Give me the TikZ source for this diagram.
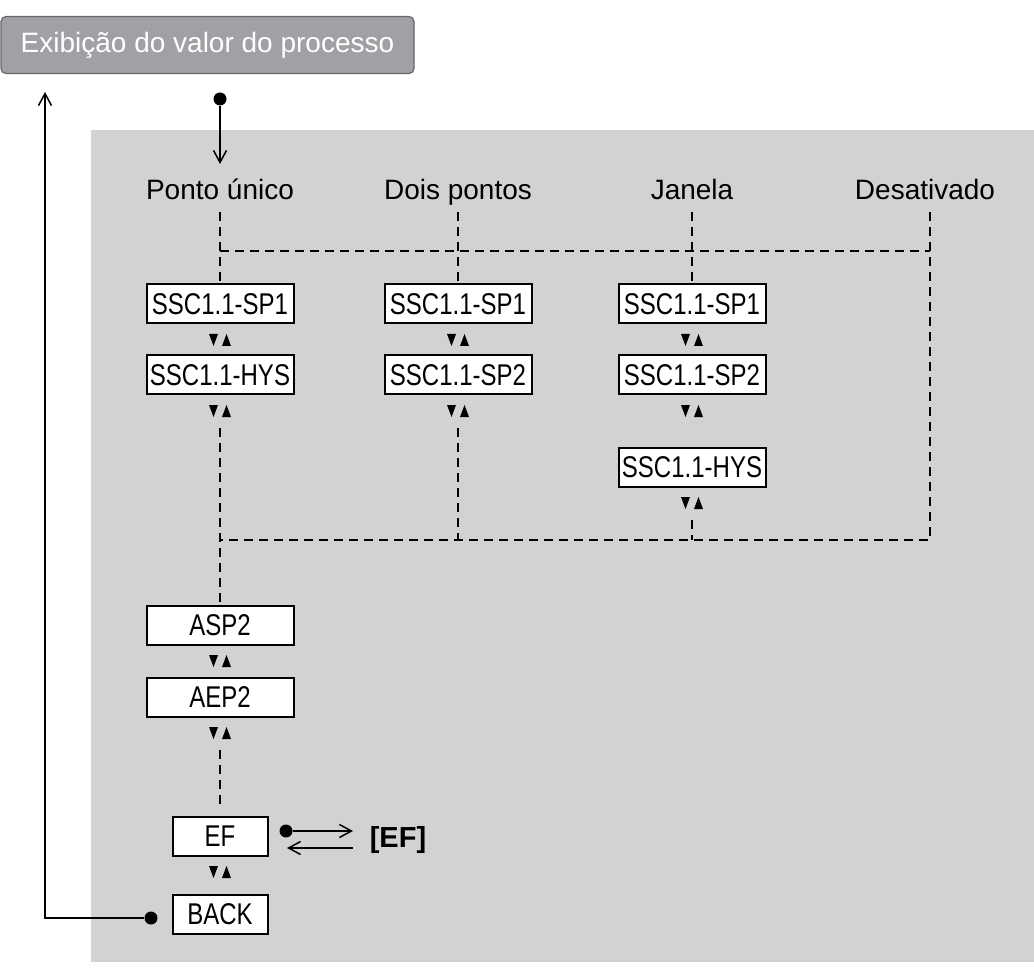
\documentclass[tikz,border=0pt]{standalone}
\usepackage{fontspec}
\setmainfont{Liberation Sans}
\newfontfamily\narrowf{Liberation Sans}[FakeStretch=0.8]
\usetikzlibrary{arrows.meta}
\definecolor{panel}{RGB}{209,210,212}
\definecolor{topbox}{RGB}{160,161,164}
\begin{document}
\begin{tikzpicture}[x=1pt,y=-1pt,
  box/.style={draw,line width=2pt,fill=white,minimum height=39pt,inner sep=0pt,font=\narrowf\fontsize{30}{30}\selectfont},
  wbox/.style={box,minimum width=147pt},
  sbox/.style={box,minimum width=95pt},
  head/.style={font=\fontsize{28}{28}\selectfont,anchor=base},
  dsh/.style={line width=1.5pt,dash pattern=on 9pt off 6pt},
  conn/.style={line width=1.5pt},
  tip/.style={-{Straight Barb[length=12pt,width=13pt,line width=1.5pt]}},
  updown/.pic={\fill (-11,-6)--(-2,-6)--(-6.5,6)--cycle; \fill (2,6)--(11,6)--(6.5,-6)--cycle;},
  dot/.style={circle,fill,inner sep=0pt,minimum size=13pt}]
\useasboundingbox (0,0) rectangle (1034,968);
\fill[panel] (91,130) rectangle (1034,962);
\node[draw=gray!80!black,line width=1.2pt,fill=topbox,rounded corners=5pt,minimum width=413pt,minimum height=57pt,text=white,font=\fontsize{28}{28}\selectfont] (top) at (207.5,45) {Exibição do valor do processo};
% headers
\node[head] (h1) at (220,200) {Ponto único};
\node[head] (h2) at (458,200) {Dois pontos};
\node[head] (h3) at (692,200) {Janela};
\node[head] (h4) at (925,200) {Desativado};
% boxes
\node[wbox] (a1) at (220,304) {SSC1.1-SP1};
\node[wbox] (a2) at (220,375) {SSC1.1-HYS};
\node[wbox] (b1) at (458,304) {SSC1.1-SP1};
\node[wbox] (b2) at (458,375) {SSC1.1-SP2};
\node[wbox] (c1) at (692,304) {SSC1.1-SP1};
\node[wbox] (c2) at (692,375) {SSC1.1-SP2};
\node[wbox] (c3) at (692,467) {SSC1.1-HYS};
\node[wbox] (asp) at (220,625) {ASP2};
\node[wbox] (aep) at (220,697) {AEP2};
\node[sbox] (ef) at (220,836) {EF};
\node[sbox] (back) at (220,914) {BACK};
\node[font=\bfseries\fontsize{29}{29}\selectfont] (efl) at (398,840) {[EF]};
% triangles
\foreach \x/\y in {220/340,220/411,458/340,458/411,692/340,692/411,692/503,220/661,220/733,220/872}
  \pic at (\x,\y) {updown};
% coordinates
\coordinate (v1) at (220,212); \coordinate (v2) at (458,212); \coordinate (v3) at (692,212);
\coordinate (t1) at (220,251); \coordinate (t4) at (930,251);
\coordinate (d4) at (930,212);
\coordinate (u1) at (220,540); \coordinate (u4) at (930,540);
\coordinate (ub) at (458,540); \coordinate (uc) at (692,540);
% dashed
\draw[dsh] (v1) -- (a1.north);
\draw[dsh] (v2) -- (b1.north);
\draw[dsh] (v3) -- (c1.north);
\draw[dsh] (t1) -- (t4);
\draw[dsh] (d4) -- (u4) -- (u1);
\draw[dsh] (220,428) -- (asp.north);
\draw[dsh] (458,428) -- (ub);
\draw[dsh] (692,520) -- (uc);
\draw[dsh] (220,750) -- (220,808);
% entry
\node[dot] (d0) at (220,99) {};
\draw[conn,tip] (d0) -- (220,164);
% back
\node[dot] (db) at (151,918) {};
\coordinate (lb) at (45,918);
\draw[conn,tip] (db) -- (lb) -- (45,92);
% EF
\node[dot] (de) at (286,831) {};
\draw[conn,tip] (de) -- (353,831);
\draw[conn,tip] (353,848) -- (287,848);
\end{tikzpicture}
\end{document}
